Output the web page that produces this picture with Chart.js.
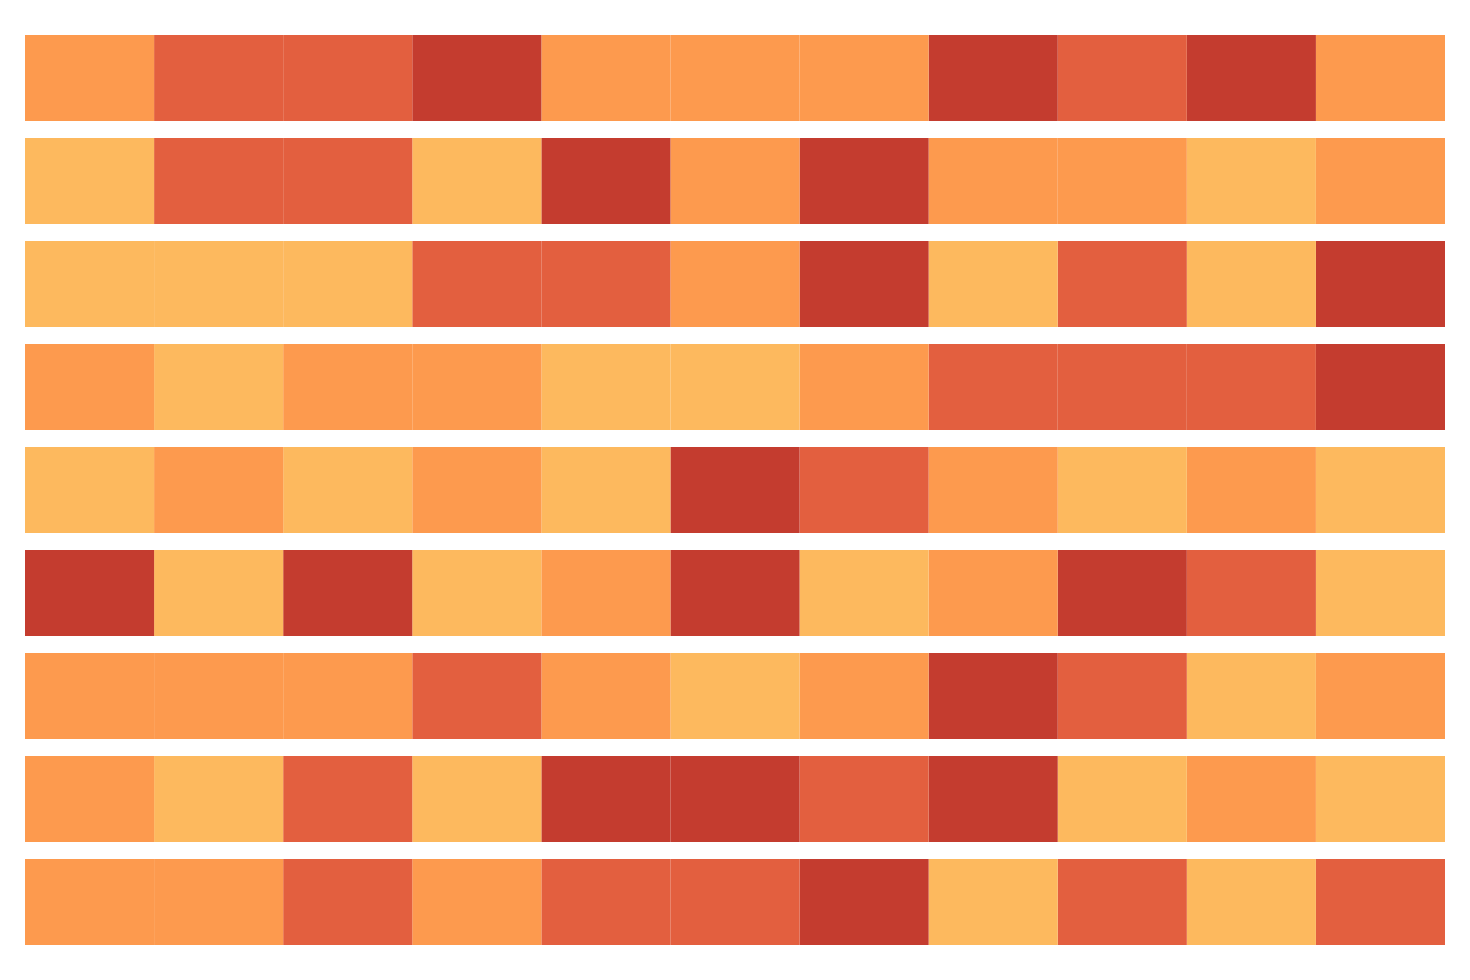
<!DOCTYPE html>
<html>
<head>
<meta charset="utf-8">
<script src="https://cdn.jsdelivr.net/npm/chart.js@4/dist/chart.umd.min.js"></script>
<style>
  html, body { margin: 0; padding: 0; background: #fff; }
  #wrap { width: 1470px; height: 980px; }
</style>
</head>
<body>
<div id="wrap"><canvas id="grid"></canvas></div>
<script>
// Rows (top to bottom) and columns (left to right)
const rowLabels = ["R1", "R2", "R3", "R4", "R5", "R6", "R7", "R8", "R9"];
const colLabels = ["C1", "C2", "C3", "C4", "C5", "C6", "C7", "C8", "C9", "C10", "C11"];

// Level of each cell: 1 = light, 2 = orange, 3 = red-orange, 4 = dark red
const row1 = [2, 3, 3, 4, 2, 2, 2, 4, 3, 4, 2];
const row2 = [1, 3, 3, 1, 4, 2, 4, 2, 2, 1, 2];
const row3 = [1, 1, 1, 3, 3, 2, 4, 1, 3, 1, 4];
const row4 = [2, 1, 2, 2, 1, 1, 2, 3, 3, 3, 4];
const row5 = [1, 2, 1, 2, 1, 4, 3, 2, 1, 2, 1];
const row6 = [4, 1, 4, 1, 2, 4, 1, 2, 4, 3, 1];
const row7 = [2, 2, 2, 3, 2, 1, 2, 4, 3, 1, 2];
const row8 = [2, 1, 3, 1, 4, 4, 3, 4, 1, 2, 1];
const row9 = [2, 2, 3, 2, 3, 3, 4, 1, 3, 1, 3];

const rows = [row1, row2, row3, row4, row5, row6, row7, row8, row9];
const levelColors = { 1: "#FDB95E", 2: "#FD9A4E", 3: "#E35F3F", 4: "#C43C2F" };

// one stacked dataset per column, each cell is one unit wide
const datasets = colLabels.map((col, j) => ({
  label: col,
  data: rows.map(() => 1),
  backgroundColor: rows.map(r => levelColors[r[j]]),
  borderWidth: 0,
  barPercentage: 1,
  categoryPercentage: 0.835
}));

new Chart(document.getElementById("grid"), {
  type: "bar",
  data: { labels: rowLabels, datasets: datasets },
  options: {
    indexAxis: "y",
    responsive: true,
    maintainAspectRatio: false,
    animation: false,
    layout: { padding: { left: 25, right: 25, top: 26.5, bottom: 26.5 } },
    plugins: { legend: { display: false }, tooltip: { enabled: false } },
    scales: {
      x: { stacked: true, min: 0, max: colLabels.length, display: false },
      y: { stacked: true, display: false }
    }
  }
});
</script>
</body>
</html>
